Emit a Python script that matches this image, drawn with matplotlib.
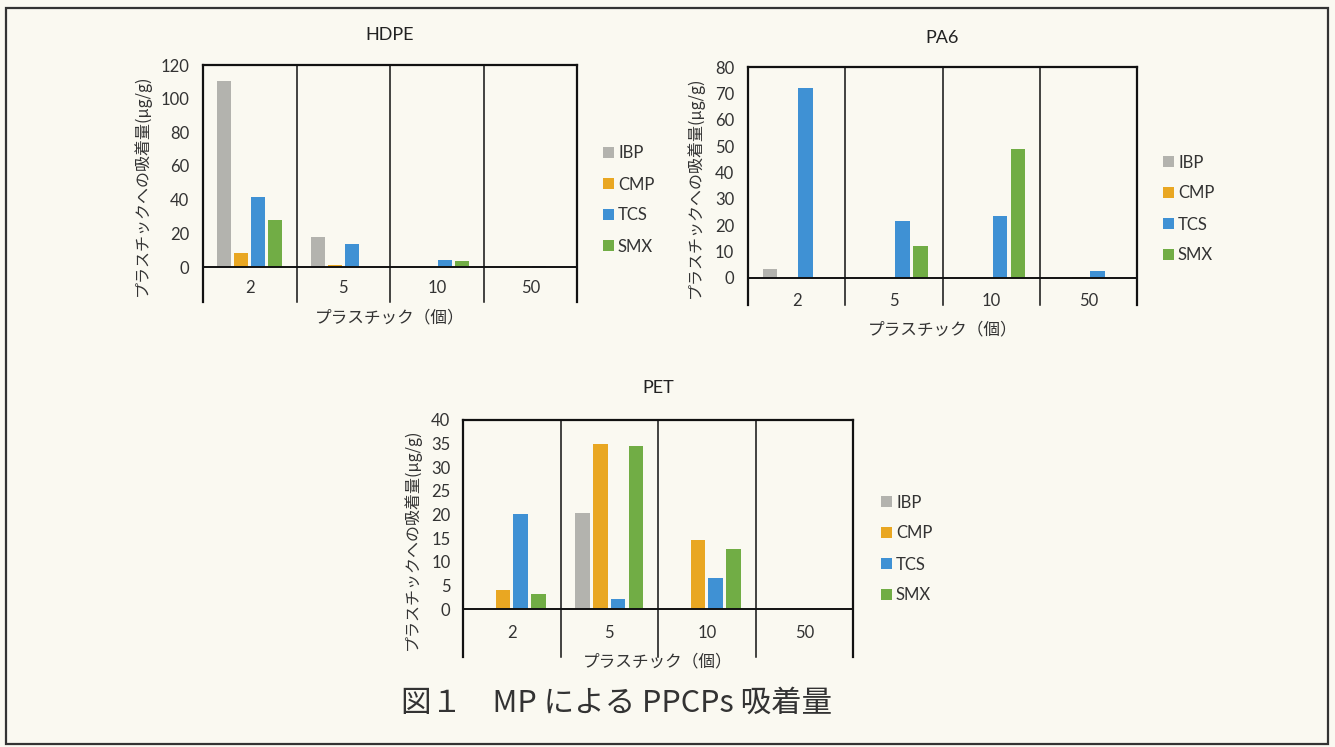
import matplotlib

matplotlib.use("Agg")

from matplotlib import pyplot as plt
from matplotlib.patches import Patch, Rectangle

FIG_W = 1335
FIG_H = 747

CATEGORIES = ["2", "5", "10", "50"]
SERIES = ["IBP", "CMP", "TCS", "SMX"]
COLORS = ["#b3b3ae", "#e9a722", "#3f91d4", "#71ad45"]

HDPE_IBP = [110.5, 17.9, 0.0, 0.0]
HDPE_CMP = [8.5, 1.0, 0.0, 0.5]
HDPE_TCS = [41.5, 13.5, 4.0, 0.8]
HDPE_SMX = [27.8, 0.0, 3.8, 0.0]

PA6_IBP = [3.5, 0.0, 0.0, 0.0]
PA6_CMP = [0.0, 0.0, 0.0, 0.3]
PA6_TCS = [72.0, 21.5, 23.5, 2.8]
PA6_SMX = [0.0, 12.0, 49.0, 0.0]

PET_IBP = [0.0, 20.4, 0.0, 0.0]
PET_CMP = [4.1, 34.9, 14.5, 0.0]
PET_TCS = [20.1, 2.1, 6.5, 0.0]
PET_SMX = [3.2, 34.5, 12.8, 0.0]

Y_LABEL = "プラスチックへの吸着量(μg/g)"
X_LABEL = "プラスチック（個）"
CAPTION = "図１　MP による PPCPs 吸着量"

BG = "#faf9f1"
INK = "#333333"
LATIN = ["Lato", "Noto Sans CJK JP", "DejaVu Sans"]
CJK = ["Noto Sans CJK JP", "DejaVu Sans"]

plt.rcParams["font.family"] = LATIN


def fx(px):
    return px / FIG_W


def fy(py):
    return 1 - py / FIG_H


def draw_panel(fig, box, title, series_values, ymax, ystep, layout):
    left, top, right, bottom = box
    ax = fig.add_axes([fx(left), fy(bottom), fx(right - left), (bottom - top) / FIG_H])
    ax.set_facecolor("none")

    positions = range(len(CATEGORIES))
    bar_width = 0.15
    spacing = 0.183
    for i, (name, values, color) in enumerate(zip(SERIES, series_values, COLORS)):
        offset = (i - 1.5) * spacing
        ax.bar([p + offset for p in positions], values, width=bar_width, color=color, label=name)

    ax.set_xlim(-0.5, len(CATEGORIES) - 0.5)
    ax.set_ylim(0, ymax)
    ax.set_yticks(range(0, ymax + 1, ystep))
    ax.set_xticks(list(positions))
    ax.set_xticklabels(CATEGORIES)
    ax.tick_params(axis="y", length=0, pad=layout["ypad"], labelsize=12, labelcolor=INK)
    ax.tick_params(axis="x", length=0, pad=layout["xpad"], labelsize=12, labelcolor=INK)

    for side in ("left", "right"):
        ax.spines[side].set_visible(False)
    ax.spines["top"].set_linewidth(1.6)
    ax.spines["bottom"].set_linewidth(1.4)
    ax.spines["top"].set_color("#111111")
    ax.spines["bottom"].set_color("#111111")

    drop = layout["drop"] / (bottom - top)
    for edge in [k - 0.5 for k in range(len(CATEGORIES) + 1)]:
        width = 1.6 if edge in (-0.5, len(CATEGORIES) - 0.5) else 1.1
        ax.axvline(edge, ymin=-drop, ymax=1, color="#111111", linewidth=width, clip_on=False)

    fig.text(fx((left + right) / 2), fy(layout["title_y"]), title, ha="center", va="center",
             fontsize=13, color="#222222")
    fig.text(fx(layout["ylabel_x"]), fy(layout["ylabel_y"]), Y_LABEL, rotation=90, ha="center",
             va="center", fontsize=11.5, color=INK, family=CJK)
    fig.text(fx((left + right) / 2), fy(layout["xlabel_y"]), X_LABEL, ha="center", va="center",
             fontsize=12, color=INK, family=CJK)

    handles = [Patch(facecolor=c, edgecolor="none") for c in COLORS]
    ax.legend(handles, SERIES, loc="center left", bbox_to_anchor=(fx(layout["leg_x"]), fy(layout["leg_y"])),
              bbox_transform=fig.transFigure, frameon=False, fontsize=12, handlelength=0.65,
              handleheight=0.65, handletextpad=0.25, labelspacing=0.9, borderpad=0, borderaxespad=0,
              labelcolor=INK)
    return ax


def main():
    fig = plt.figure(figsize=(FIG_W / 100, FIG_H / 100), dpi=100)
    fig.patch.set_facecolor(BG)

    fig.add_artist(Rectangle((fx(6), fy(744)), fx(1328 - 6), (744 - 8) / FIG_H, transform=fig.transFigure,
                             fill=False, edgecolor="#333333", linewidth=1.6))

    draw_panel(fig, (203, 65, 577, 267), "HDPE", [HDPE_IBP, HDPE_CMP, HDPE_TCS, HDPE_SMX], 120, 20,
               dict(ypad=10, xpad=9.5, drop=35, title_y=35, ylabel_x=142, ylabel_y=185, xlabel_y=318,
                    leg_x=603, leg_y=200))
    draw_panel(fig, (748, 67, 1137, 278), "PA6", [PA6_IBP, PA6_CMP, PA6_TCS, PA6_SMX], 80, 10,
               dict(ypad=10, xpad=10.5, drop=27, title_y=38, ylabel_x=695, ylabel_y=187, xlabel_y=330,
                    leg_x=1163, leg_y=209))
    draw_panel(fig, (463, 420, 853, 609), "PET", [PET_IBP, PET_CMP, PET_TCS, PET_SMX], 40, 5,
               dict(ypad=9, xpad=11.5, drop=48, title_y=388, ylabel_x=412, ylabel_y=539, xlabel_y=662,
                    leg_x=881, leg_y=549))

    fig.text(fx(617), fy(703), CAPTION, ha="center", va="center", fontsize=22, color="#333333", family=CJK)

    fig.savefig("out.png", dpi=100, facecolor=fig.get_facecolor())
    plt.close(fig)


if __name__ == "__main__":
    main()
